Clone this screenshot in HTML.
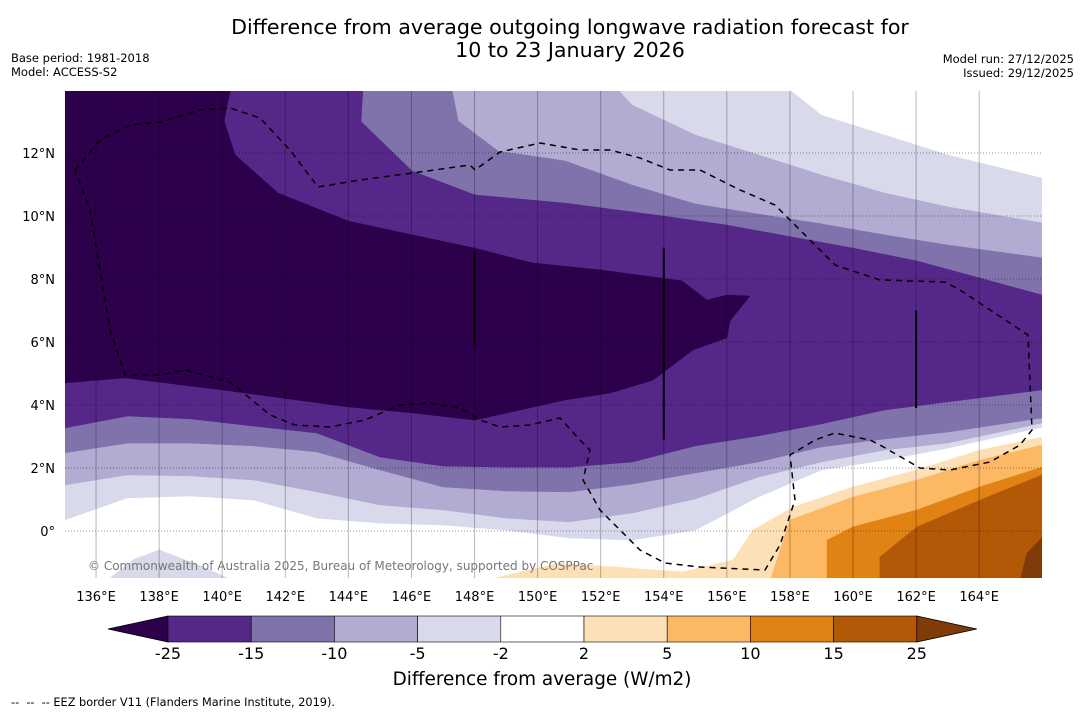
<!DOCTYPE html>
<html><head><meta charset="utf-8">
<style>
html,body{margin:0;padding:0;background:#fff;}
svg{display:block;font-family:"DejaVu Sans","Liberation Sans",sans-serif;}
</style></head>
<body>
<svg id="chart" width="1085" height="713" viewBox="0 0 1085 713">
  <defs><clipPath id="mapclip"><rect x="65" y="91" width="977" height="487"/></clipPath></defs>
  <text x="570" y="34" text-anchor="middle" font-size="20.6">Difference from average outgoing longwave radiation forecast for</text>
  <text x="570" y="57" text-anchor="middle" font-size="20.6">10 to 23 January 2026</text>
  <text x="11" y="62" font-size="11.5">Base period: 1981-2018</text>
  <text x="11" y="76" font-size="11.5">Model: ACCESS-S2</text>
  <text x="1074" y="63" font-size="11.5" text-anchor="end">Model run: 27/12/2025</text>
  <text x="1074" y="77" font-size="11.5" text-anchor="end">Issued: 29/12/2025</text>
  <g id="map" clip-path="url(#mapclip)">
    <rect x="65" y="91" width="977" height="487" fill="#ffffff"/>
  </g>
  <g id="axes"></g>
  <g id="colorbar"></g>
  <text x="542" y="685" text-anchor="middle" font-size="18.4">Difference from average (W/m2)</text>
  <text x="11" y="706" font-size="11.3" style="white-space:pre">--  --  -- EEZ border V11 (Flanders Marine Institute, 2019).</text>
</svg>
<script>
// ---- data ----
const lons = [135,137,139,141,143,145,147,149,151,153,155,157,159,161,163,166];
const n2NorthLon  = [135,158.0,159,161,163,166];
const n2North     = [14.5,14.0,13.2,12.57,11.94,11.2];
const n2South     = [0.35,1.05,1.11,0.98,0.41,0.25,0.19,0.03,-0.22,-0.29,0.03,1.08,1.94,2.25,2.63,3.30];
const n5NorthLon  = [135,152.55,153,155,157,159,161,163,166];
const n5North     = [14.5,14.0,13.52,12.57,11.94,11.30,10.73,10.29,9.78];
const n5South     = [1.46,1.78,1.75,1.62,1.24,0.83,0.67,0.41,0.29,0.57,1.02,1.71,2.19,2.57,2.79,3.43];
const n10NorthLon = [135,147.29,147.48,148.75,150.87,153,155,157,159,161,163,166];
const n10North    = [14.5,14.0,13.02,12.06,11.75,10.98,10.38,10.06,9.75,9.40,9.08,8.67];
const n10South    = [2.48,2.79,2.79,2.70,2.51,1.94,1.40,1.27,1.24,1.49,1.84,2.19,2.67,2.92,3.14,3.59];
const n15NorthLon = [135,144.46,144.4,146.02,148.01,150.87,153.98,156.0,160.0,162.03,164.03,166];
const n15North    = [14.5,14.0,13.0,11.43,10.67,10.41,10.0,9.71,8.98,8.57,8.03,7.49];
const n15South    = [3.27,3.65,3.56,3.33,3.11,2.35,2.06,2.03,2.03,2.19,2.70,3.02,3.40,3.84,4.10,4.48];
const coreLon = [135,140.3,140.06,140.41,141.77,143.99,146.02,148.01,149.82,151.98,154.58,155.37,156.0,156.73,156.1,156.0,154.93,153.66,152.30,150.87,148.01,146.02,143.99,139.99,136.92,135];
const coreLat = [14.5,14.2,13.02,11.94,10.73,9.84,9.40,8.98,8.51,8.29,7.94,7.33,7.49,7.46,6.67,6.13,5.75,4.79,4.38,4.16,3.52,3.75,3.94,4.48,4.86,4.70];
const blobLon = [136.3,137.2,138.0,139.3,140.4];
const blobLat = [-1.6,-0.9,-0.6,-1.1,-1.6];
const p2Lon  = [148.24,149.44,150.71,154.61,156.19,156.83,158.10,160.0,162.03,164.03,166];
const p2Lat  = [-1.6,-1.30,-1.02,-1.30,-0.92,0.03,0.76,1.40,1.94,2.57,2.98];
const p5Lon  = [157.37,158.0,160.0,162.03,164.03,166];
const p5Lat  = [-1.6,0.35,1.08,1.62,2.25,2.73];
const p10Lon = [159.18,159.18,160.0,162.03,164.03,166];
const p10Lat = [-1.6,-0.29,0.13,0.67,1.40,2.03];
const p15Lon = [160.85,160.85,162.03,164.03,166];
const p15Lat = [-1.6,-0.83,0.13,0.98,1.78];
const p25Lon = [165.29,165.52,166];
const p25Lat = [-1.6,-0.7,-0.19];
const lonTicks = [136,138,140,142,144,146,148,150,152,154,156,158,160,162,164];
const latTicks = [0,2,4,6,8,10,12];
const cbLevels = ["-25","-15","-10","-5","-2","2","5","10","15","25"];
const cbColors = ["#542788","#8073ac","#b2abd2","#d8daeb","#ffffff","#fee0b6","#fdb863","#e08214","#b35806"];

// ---- axes ----
const NS = "http://www.w3.org/2000/svg";
const X = lon => 64.5 + (lon - 135) * 31.54;
const Y = lat => 531 - lat * 31.5;
const LON_MAX = 166, LAT_MIN = -1.6;
function mk(tag, attrs, parent){ const e=document.createElementNS(NS,tag); for(const k in attrs) e.setAttribute(k,attrs[k]); parent.appendChild(e); return e; }
const map = document.getElementById('map');
const axes = document.getElementById('axes');
const cb = document.getElementById('colorbar');

function band(nLon, north, sLon, south, color, name){
  const pts=[];
  for(let i=0;i<nLon.length;i++) pts.push(X(nLon[i]).toFixed(1)+','+Y(north[i]).toFixed(1));
  for(let i=sLon.length-1;i>=0;i--) pts.push(X(sLon[i]).toFixed(1)+','+Y(south[i]).toFixed(1));
  const el = mk('polygon',{points:pts.join(' '),fill:color,stroke:color,'stroke-width':0.5},map);
  
  
}
function poly(ls, la, color, name){
  const pts=ls.map((l,i)=>X(l).toFixed(1)+','+Y(la[i]).toFixed(1)).join(' ');
  const el=mk('polygon',{points:pts,fill:color,stroke:color,'stroke-width':0.5},map);
  
  
}
function corner(ls, la, color, name){
  const pts=[];
  for(let i=0;i<ls.length;i++) pts.push(X(ls[i]).toFixed(1)+','+Y(la[i]).toFixed(1));
  pts.push(X(LON_MAX)+','+Y(LAT_MIN));
  const el = mk('polygon',{points:pts.join(' '),fill:color,stroke:color,'stroke-width':0.5},map);
  
  
}
band(n2NorthLon, n2North, lons, n2South, "#d8daeb", "contour-le-minus2");
band(n5NorthLon, n5North, lons, n5South, "#b2abd2", "contour-le-minus5");
band(n10NorthLon, n10North, lons, n10South, "#8073ac", "contour-le-minus10");
band(n15NorthLon, n15North, lons, n15South, "#542788", "contour-le-minus15");
poly(coreLon, coreLat, "#2d004b", "contour-le-minus25");
poly(blobLon, blobLat, "#d8daeb", "contour-blob-minus2");
corner(p2Lon, p2Lat, "#fee0b6", "contour-ge-2");
corner(p5Lon, p5Lat, "#fdb863", "contour-ge-5");
corner(p10Lon, p10Lat, "#e08214", "contour-ge-10");
corner(p15Lon, p15Lat, "#b35806", "contour-ge-15");
corner(p25Lon, p25Lat, "#7f3b08", "contour-ge-25");

// artifact lines
[[148,5.9,8.9],[154,2.9,9.0],[162,3.9,7.0]].forEach(a=>{
  const el=mk('line',{x1:X(a[0]),x2:X(a[0]),y1:Y(a[1]),y2:Y(a[2]),stroke:"#000",'stroke-width':2},map);
  
  
});

// gridlines
lonTicks.forEach(l=>{
  const el=mk('line',{x1:X(l),x2:X(l),y1:91,y2:578,stroke:"rgba(0,0,0,0.28)",'stroke-width':1},map);
  
  
});
latTicks.forEach(l=>{
  const el=mk('line',{x1:65,x2:1042,y1:Y(l),y2:Y(l),stroke:"rgba(0,0,0,0.4)",'stroke-width':1,'stroke-dasharray':'1,2'},map);
  
  
});

// EEZ border
{
  const p="M75,170 L100,140 L130,125 L160,122 L200,110 L230,108 L260,118 L290,150 L318,187 L360,180 L420,172 L470,165 L475,170 L500,152 L540,143 L580,150 L610,150 L640,158 L670,170 L700,170 L740,190 L775,205 L800,230 L835,265 L880,280 L945,282 L960,290 L1028,335 L1032,430 L1020,445 L990,462 L950,470 L920,468 L880,445 L870,440 L835,433 L815,440 L790,455 L795,500 L780,545 L765,570 L700,567 L665,563 L640,550 L600,510 L583,480 L590,450 L580,440 L560,418 L530,425 L500,427 L480,420 L460,408 L430,403 L400,405 L365,420 L330,427 L295,425 L270,415 L240,390 L230,382 L185,370 L160,375 L125,375 L110,330 L100,270 L90,210 Z";
  const el=mk('path',{d:p,fill:"none",stroke:"#000",'stroke-width':1.5,'stroke-dasharray':'6,5'},map);
  
  
}
{
  const t=mk('text',{x:88,y:570,'font-size':12,fill:"#777"},map);
  t.textContent="© Commonwealth of Australia 2025, Bureau of Meteorology, supported by COSPPac";
  
  
}

// tick labels
lonTicks.forEach(l=>{
  const t=mk('text',{x:X(l),y:601,'font-size':13,'text-anchor':'middle'},axes);
  t.textContent=l+"°E";
  
  
});
latTicks.forEach(l=>{
  const t=mk('text',{x:55,y:Y(l)+5,'font-size':13,'text-anchor':'end'},axes);
  t.textContent= l===0 ? "0°" : l+"°N";
  
  
});

// colorbar
const cbX0=168, cbW=83.2, cbY=616, cbH=26;
{
  const el=mk('polygon',{points:`108,${cbY+cbH/2} ${cbX0},${cbY} ${cbX0},${cbY+cbH}`,fill:"#2d004b",stroke:"#000",'stroke-width':0.8},cb);
  
  
}
cbColors.forEach((c,i)=>{
  const el=mk('rect',{x:cbX0+i*cbW,y:cbY,width:cbW,height:cbH,fill:c,stroke:"#000",'stroke-width':0.6},cb);
  
  
});
{
  const xe=cbX0+cbColors.length*cbW;
  const el=mk('polygon',{points:`${xe},${cbY} ${xe+60},${cbY+cbH/2} ${xe},${cbY+cbH}`,fill:"#7f3b08",stroke:"#000",'stroke-width':0.8},cb);
  
  
}
cbLevels.forEach((v,i)=>{
  const t=mk('text',{x:cbX0+i*cbW,y:659,'font-size':16,'text-anchor':'middle'},cb);
  t.textContent=v;
  
  
});
</script>
</body></html>
